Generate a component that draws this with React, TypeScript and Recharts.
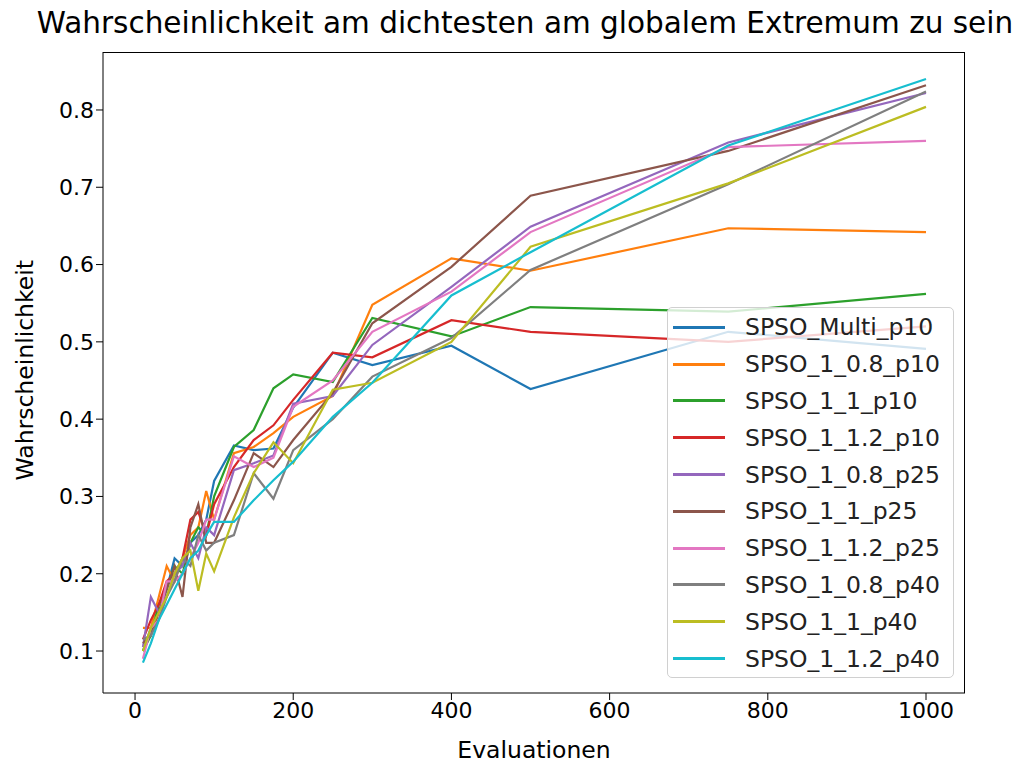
import { LineChart, Line, XAxis, YAxis } from 'recharts';

const evals = [10, 20, 30, 40, 50, 60, 70, 80, 90, 100, 125, 150, 175, 200, 250, 300, 400, 500, 750, 1000];

const multiP10 = [0.10, 0.13, 0.15, 0.18, 0.22, 0.21, 0.24, 0.25, 0.27, 0.32, 0.366, 0.36, 0.362, 0.415, 0.486, 0.47, 0.495, 0.439, 0.513, 0.491];
const s08p10 = [0.13, 0.13, 0.17, 0.21, 0.19, 0.22, 0.25, 0.26, 0.307, 0.27, 0.356, 0.364, 0.382, 0.403, 0.43, 0.548, 0.608, 0.592, 0.647, 0.642];
const s1p10 = [0.10, 0.12, 0.16, 0.18, 0.21, 0.20, 0.24, 0.26, 0.25, 0.30, 0.364, 0.386, 0.44, 0.458, 0.448, 0.531, 0.507, 0.545, 0.539, 0.562];
const s12p10 = [0.115, 0.14, 0.16, 0.19, 0.20, 0.22, 0.27, 0.28, 0.25, 0.29, 0.338, 0.373, 0.392, 0.425, 0.486, 0.48, 0.528, 0.513, 0.50, 0.52];
const s08p25 = [0.105, 0.17, 0.15, 0.17, 0.20, 0.21, 0.24, 0.22, 0.26, 0.25, 0.334, 0.343, 0.353, 0.42, 0.43, 0.496, 0.571, 0.649, 0.758, 0.822];
const s1p25 = [0.11, 0.12, 0.15, 0.18, 0.21, 0.17, 0.26, 0.29, 0.24, 0.24, 0.295, 0.356, 0.338, 0.373, 0.434, 0.524, 0.597, 0.689, 0.747, 0.832];
const s12p25 = [0.09, 0.13, 0.14, 0.19, 0.19, 0.20, 0.22, 0.24, 0.27, 0.27, 0.352, 0.338, 0.35, 0.416, 0.45, 0.513, 0.565, 0.642, 0.752, 0.76];
const s08p40 = [0.115, 0.12, 0.14, 0.17, 0.19, 0.22, 0.21, 0.25, 0.23, 0.24, 0.25, 0.33, 0.297, 0.36, 0.40, 0.455, 0.505, 0.593, 0.704, 0.824];
const s1p40 = [0.10, 0.13, 0.15, 0.17, 0.20, 0.22, 0.23, 0.178, 0.226, 0.203, 0.273, 0.33, 0.37, 0.343, 0.438, 0.447, 0.50, 0.623, 0.705, 0.804];
const s12p40 = [0.085, 0.11, 0.14, 0.16, 0.18, 0.20, 0.22, 0.23, 0.25, 0.267, 0.267, 0.295, 0.321, 0.345, 0.403, 0.447, 0.56, 0.616, 0.754, 0.84];

const seriesNames = [
  'SPSO_Multi_p10', 'SPSO_1_0.8_p10', 'SPSO_1_1_p10', 'SPSO_1_1.2_p10', 'SPSO_1_0.8_p25',
  'SPSO_1_1_p25', 'SPSO_1_1.2_p25', 'SPSO_1_0.8_p40', 'SPSO_1_1_p40', 'SPSO_1_1.2_p40',
];
const seriesValues = [multiP10, s08p10, s1p10, s12p10, s08p25, s1p25, s12p25, s08p40, s1p40, s12p40];
const colors = ['#1f77b4', '#ff7f0e', '#2ca02c', '#d62728', '#9467bd', '#8c564b', '#e377c2', '#7f7f7f', '#bcbd22', '#17becf'];

const xTicks = [0, 200, 400, 600, 800, 1000];
const yTicks = [0.1, 0.2, 0.3, 0.4, 0.5, 0.6, 0.7, 0.8];

const data = evals.map((x, i) => {
  const row: Record<string, number> = { x };
  seriesNames.forEach((name, s) => { row[name] = seriesValues[s][i]; });
  return row;
});

const font = 'DejaVu Sans, sans-serif';

export default function App() {
  return (
    <div style={{ position: 'absolute', left: 0, top: 0, width: 1022, height: 769, background: '#fff', fontFamily: font }}>
      <div style={{ position: 'absolute', left: 0, width: 1050, top: 6, textAlign: 'center', fontSize: 29.5, color: '#000', whiteSpace: 'nowrap' }}>
        Wahrscheinlichkeit am dichtesten am globalem Extremum zu sein
      </div>
      <LineChart width={1022} height={769} data={data} margin={{ top: 52, right: 57, left: 43, bottom: 36 }}>
        <XAxis dataKey="x" type="number" domain={[-40.5, 1049.3]} ticks={xTicks} allowDataOverflow
          height={40} stroke="#000" tickSize={7} tick={{ fill: '#000', fontSize: 22, fontFamily: font }}
          label={{ value: 'Evaluationen', position: 'insideBottom', offset: -25, fill: '#000', fontSize: 23.5, fontFamily: font }} />
        <YAxis type="number" domain={[0.0457, 0.875]} ticks={yTicks} allowDataOverflow width={60} stroke="#000"
          tickSize={7} tickFormatter={(v: number) => v.toFixed(1)} tick={{ fill: '#000', fontSize: 22, fontFamily: font }}
          label={{ value: 'Wahrscheinlichkeit', angle: -90, position: 'insideLeft', offset: -18, dy: 108, fill: '#000', fontSize: 23.5, fontFamily: font }} />
        {seriesNames.map((name, s) => (
          <Line key={name} dataKey={name} stroke={colors[s]} strokeWidth={2.2} dot={false}
            type="linear" isAnimationActive={false} />
        ))}
      </LineChart>
      <div style={{ position: 'absolute', left: 103, top: 52, width: 862, height: 641, boxSizing: 'border-box',
        borderTop: '1px solid #000', borderRight: '1px solid #000', pointerEvents: 'none' }} />
      <div style={{ position: 'absolute', left: 667, top: 307, width: 287, height: 371, background: 'rgba(255,255,255,0.8)',
        border: '1px solid #d0d0d0', borderRadius: 5, boxSizing: 'border-box', paddingTop: 1 }}>
        {seriesNames.map((name, s) => (
          <div key={name} style={{ height: 36.8, display: 'flex', alignItems: 'center' }}>
            <div style={{ marginLeft: 5, width: 52, height: 3, background: colors[s] }} />
            <div style={{ marginLeft: 20, fontSize: 23.5, color: '#222', whiteSpace: 'nowrap' }}>{name}</div>
          </div>
        ))}
      </div>
    </div>
  );
}
